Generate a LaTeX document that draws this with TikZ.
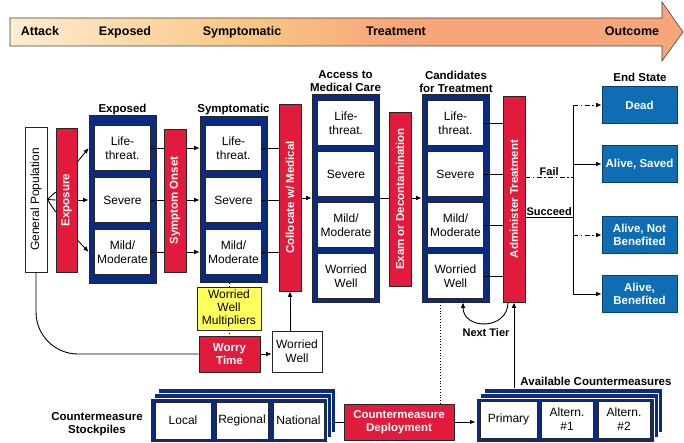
\documentclass[tikz,border=0pt]{standalone}
\usepackage{fontspec}
\setmainfont{Liberation Sans}
\usetikzlibrary{arrows.meta,positioning,calc}
\definecolor{PlanNavy}{HTML}{0B2B82}
\definecolor{PlanRed}{HTML}{E21A3B}
\definecolor{PlanYellow}{HTML}{FFFF5C}
\definecolor{PlanSky}{HTML}{0F6DB3}
\definecolor{PlanSkyDark}{HTML}{0B3D6E}
\definecolor{PlanCream}{HTML}{FDEDCF}
\definecolor{PlanApricot}{HTML}{F9C583}
\definecolor{PlanSalmon}{HTML}{F7A679}
\pgfdeclarehorizontalshading{timeline}{100bp}{color(0bp)=(PlanCream); color(25bp)=(PlanCream); color(43bp)=(PlanApricot); color(54bp)=(PlanSalmon); color(100bp)=(PlanSalmon)}
\tikzset{
  link/.style={line width=0.9pt, draw=black},
  arr/.style={link, -{Latex[length=5.5pt,width=4.5pt]}},
  dashdot/.style={dash pattern=on 5pt off 2.5pt on 1.5pt off 2.5pt},
  dotline/.style={line width=0.8pt, dotted},
  box/.style={draw=black!85, line width=0.6pt, inner sep=1pt, align=center},
  whitebox/.style={box, fill=white},
  inner/.style={whitebox, minimum width=56.5pt, minimum height=45pt},
  redbox/.style={box, fill=PlanRed, text=white, font=\fontsize{11.5}{13.5}\selectfont\bfseries},
  wrap/.style={draw=black!85, fill=PlanNavy, line width=0.6pt, minimum width=67pt},
  layer/.style={draw=white, fill=PlanNavy, line width=0.9pt, minimum height=44pt},
  endbox/.style={box, fill=PlanSky, draw=PlanSkyDark, text=white, font=\fontsize{11.5}{13.5}\selectfont\bfseries,
                 minimum width=75pt, minimum height=37pt},
  head/.style={font=\fontsize{11.5}{13.5}\selectfont\bfseries, align=center, inner sep=0pt},
  lbl/.style={font=\fontsize{11}{13}\selectfont\bfseries, inner sep=1pt},
  phase/.style={font=\fontsize{12.5}{14}\selectfont\bfseries, anchor=base, inner sep=0pt},
}
\begin{document}
\begin{tikzpicture}[x=1pt,y=-1pt,font=\fontsize{12}{14}\selectfont]
    \useasboundingbox (0,0) rectangle (684,443);
    \shadedraw[shading=timeline, draw=black!75, line width=0.6pt]
      (10,18) -- (662,18) -- (662,2) -- (683,32) -- (662,61) -- (662,46) -- (10,46) -- cycle;
    \node[phase] (attack) at (40,36) {Attack};
    \node[phase] (exposedph) at (125,36) {Exposed};
    \node[phase] (symptph) at (242,36) {Symptomatic};
    \node[phase] (treatph) at (396,36) {Treatment};
    \node[phase] (outcomeph) at (632,36) {Outcome};

    \node[whitebox, minimum width=22pt, minimum height=145pt] (gp) at (36,199.5) {\rotatebox{90}{General Population}};
    \node[redbox, minimum width=21pt, minimum height=144pt] (exposure) at (66.5,200) {\rotatebox{90}{Exposure}};

    \node[wrap, minimum height=168pt] (expd) at (122.5,199) {};
    \node[head, anchor=base] (expdlbl) at (122.5,113) {Exposed};
    \node[inner] (e1) at (122.5,148) {Life-\\threat.};
    \node[inner] (e2) at (122.5,200) {Severe};
    \node[inner] (e3) at (122.5,252) {Mild/\\Moderate};

    \node[redbox, minimum width=22pt, minimum height=143pt] (onset) at (175,200.5) {\rotatebox{90}{Symptom Onset}};

    \node[wrap, minimum height=166pt] (sympt) at (233.5,199) {};
    \node[head, anchor=base] (symptlbl) at (233.5,113) {Symptomatic};
    \node[inner] (s1) at (233.5,148) {Life-\\threat.};
    \node[inner] (s2) at (233.5,200) {Severe};
    \node[inner] (s3) at (233.5,252) {Mild/\\Moderate};

    \node[redbox, minimum width=22pt, minimum height=187pt] (coll) at (290,197.5) {\rotatebox{90}{Collocate w/ Medical}};

    \node[wrap, minimum height=208pt] (acc) at (345.5,198) {};
    \node[head, anchor=south] (acclbl) at (345.5,92) {Access to\\Medical Care};
    \node[inner] (a1) at (346,123) {Life-\\threat.};
    \node[inner] (a2) at (346,174) {Severe};
    \node[inner] (a3) at (346,225) {Mild/\\Moderate};
    \node[inner] (a4) at (346,276) {Worried\\Well};

    \node[redbox, minimum width=22pt, minimum height=174pt] (exam) at (400,199) {\rotatebox{90}{Exam or Decontamination}};

    \node[wrap, minimum height=208pt] (cand) at (455.5,198) {};
    \node[head, anchor=south] (candlbl) at (456,93) {Candidates\\for Treatment};
    \node[inner] (c1) at (455.5,123) {Life-\\threat.};
    \node[inner] (c2) at (455.5,174) {Severe};
    \node[inner] (c3) at (455.5,225) {Mild/\\Moderate};
    \node[inner] (c4) at (455.5,276) {Worried\\Well};

    \node[redbox, minimum width=22pt, minimum height=206pt] (admin) at (514,199) {\rotatebox{90}{Administer Treatment}};

    \node[head, anchor=base] (endlbl) at (640,82) {End State};
    \node[endbox] (dead) at (639.5,105) {Dead};
    \node[endbox] (saved) at (639.5,164) {Alive, Saved};
    \node[endbox] (notben) at (639.5,235) {Alive, Not\\Benefited};
    \node[endbox] (ben) at (639.5,294) {Alive,\\Benefited};

    \node[box, fill=PlanYellow, minimum width=64pt, minimum height=43pt, font=\fontsize{12}{13.3}\selectfont] (mult) at (229,308.5) {Worried\\Well\\Multipliers};
    \node[redbox, minimum width=61pt, minimum height=36pt] (worry) at (229.5,354) {Worry\\Time};
    \node[whitebox, minimum width=50pt, minimum height=41pt] (well) at (297,351.5) {Worried\\Well};

    \node[head] (stocklbl) at (97,424) {Countermeasure\\Stockpiles};
    \node[layer, minimum width=177pt] (stock3) at (246.5,410) {};
    \node[layer, minimum width=177pt] (stock2) at (242.5,415) {};
    \node[layer, minimum width=177pt] (stock1) at (238.5,420) {};
    \node[whitebox, minimum width=56pt, minimum height=37pt] (local) at (183,420.5) {Local};
    \node[whitebox, minimum width=52pt, minimum height=37pt] (regional) at (242,420.5) {Regional};
    \node[whitebox, minimum width=51pt, minimum height=37pt] (national) at (298.5,420.5) {National};

    \node[redbox, minimum width=110pt, minimum height=36pt] (deploy) at (399,422) {Countermeasure\\Deployment};

    \node[head, anchor=base] (availlbl) at (596,385) {Available Countermeasures};
    \node[layer, minimum width=178pt] (avail3) at (573,410) {};
    \node[layer, minimum width=178pt] (avail2) at (569,415) {};
    \node[layer, minimum width=178pt] (avail1) at (565,420) {};
    \node[whitebox, minimum width=57pt, minimum height=37pt] (primary) at (508.5,419.5) {Primary};
    \node[whitebox, minimum width=52pt, minimum height=37pt] (alt1) at (567,419.5) {Altern.\\\#1};
    \node[whitebox, minimum width=52pt, minimum height=37pt] (alt2) at (624,419.5) {Altern.\\\#2};

    \draw[link] (gp.east) -- ([yshift=8pt]exposure.west);
    \draw[link] (gp.east) -- (exposure.west);
    \draw[link] (gp.east) -- ([yshift=-12pt]exposure.west);
    \draw[arr] ([yshift=38pt]exposure.east) -- (e1.west -| expd.west);
    \draw[arr] (exposure.east) -- (exposure.east -| expd.west);
    \draw[arr] ([yshift=-40pt]exposure.east) -- (e3.west -| expd.west);
    \foreach \i in {1,2,3} {
      \draw[link] (e\i.east) -- (e\i.east -| onset.west);
      \draw[arr] (e\i.east -| onset.east) -- (e\i.east -| sympt.west);
      \draw[link] (s\i.east) -- (s\i.east -| coll.west);
    }
    \draw[arr] (coll.east |- acc.west) -- (acc.west);
    \draw[link] (acc.east) -- (acc.east -| exam.west);
    \draw[arr] (acc.east -| exam.east) -- (acc.east -| cand.west);
    \foreach \i in {1,...,4}
      \draw[link] (c\i.east) -- (c\i.east -| admin.west);

    \coordinate (failend) at (573,177);
    \coordinate (succend) at (573,217);
    \draw[link, dashdot] (admin.east |- failend) -- (failend) node[lbl, midway, above] {Fail};
    \draw[link] (admin.east |- succend) -- (succend) node[lbl, midway, above] {Succeed};
    \draw[link] (dead.west -| failend) -- (ben.west -| failend);
    \draw[arr, dashdot] (dead.west -| failend) -- (dead.west);
    \draw[arr] (saved.west -| failend) -- (saved.west);
    \draw[arr, dashdot] (notben.west -| failend) -- (notben.west);
    \draw[arr] (ben.west -| failend) -- (ben.west);

    \draw[dotline] (mult.north) -- (mult.north |- sympt.south);
    \draw[dotline] (mult.south) -- (mult.south |- worry.north);
    \draw[arr] (worry.east) -- (worry.east -| well.west);
    \draw[arr] (coll.south |- well.north) -- (coll.south);
    \draw[link, rounded corners=42pt] (gp.south) |- (worry.west);

    \draw[link] (stock3.east |- deploy.west) -- (deploy.west);
    \draw[arr] (deploy.east) -- (deploy.east -| avail1.west);
    \draw[dotline] ([xshift=-14pt]deploy.north east) -- ([xshift=-14pt]deploy.north east |- cand.south);
    \draw[arr] (admin.south |- avail3.north) -- (admin.south);
    \draw[arr] ([xshift=-6pt]admin.south) .. controls +(0,28) and +(0,28) .. ([xshift=7.5pt]cand.south);
    \node[lbl, anchor=base] (nexttier) at (486,336) {Next Tier};
\end{tikzpicture}
\end{document}
